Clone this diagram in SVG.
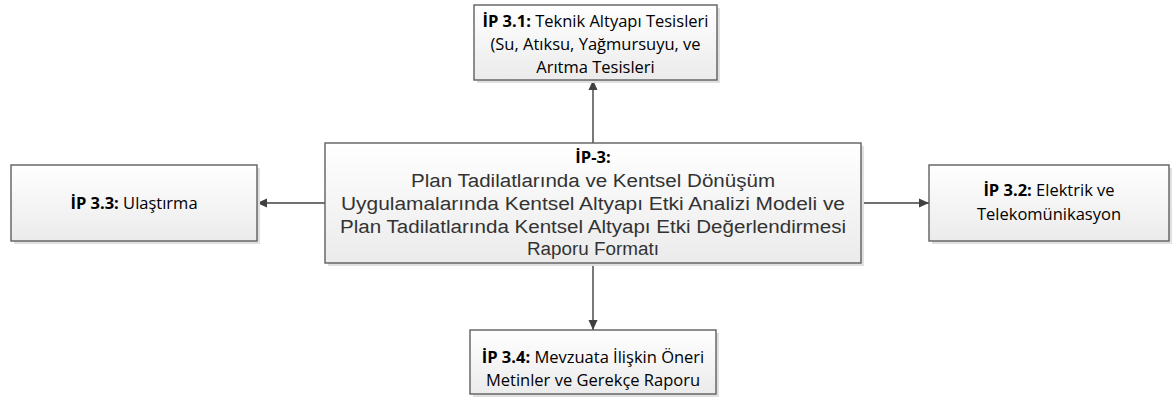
<svg xmlns="http://www.w3.org/2000/svg" width="1172" height="408" viewBox="0 0 1172 408">
  <defs>
    <linearGradient id="boxFill" x1="0" y1="0" x2="0" y2="1">
      <stop offset="0" stop-color="#ffffff"/>
      <stop offset="1" stop-color="#ebebeb"/>
    </linearGradient>
    <marker id="arrow" viewBox="0 0 10 10" refX="10" refY="5" markerWidth="10" markerHeight="10" markerUnits="userSpaceOnUse" orient="auto">
      <path d="M0,0.5 L10,5 L0,9.5 Z" fill="#404040"/>
    </marker>
    <style>
      .shadow { fill: #e0e0e0; }
      .box { fill: url(#boxFill); stroke: #5f5f5f; stroke-width: 1.4; }
      .lbl { font-family: "Open Sans", "Liberation Sans", sans-serif; font-size: 16.5px; fill: #000; text-anchor: middle; }
      .main { font-family: "Liberation Sans", "DejaVu Sans", sans-serif; font-size: 18px; fill: #333333; text-anchor: middle; }
      .head { font-family: "Open Sans", "Liberation Sans", sans-serif; font-size: 16.5px; font-weight: bold; fill: #000; text-anchor: middle; }
      .b { font-weight: bold; }
      .conn { stroke: #404040; stroke-width: 1.4; fill: none; marker-end: url(#arrow); }
    </style>
  </defs>

  <!-- connectors from the central node to its four satellites -->
  <g id="connectors">
    <line class="conn" x1="593" y1="143" x2="593" y2="80"/>
    <line class="conn" x1="325" y1="203" x2="257" y2="203"/>
    <line class="conn" x1="861" y1="203" x2="929" y2="203"/>
    <line class="conn" x1="593" y1="263" x2="593" y2="330"/>
  </g>

  <!-- central node -->
  <g id="ip3">
    <rect class="shadow" x="328" y="146" width="536" height="120"/>
    <rect class="box" x="325" y="143" width="536" height="120"/>
    <text class="head" x="593" y="163">İP-3:</text>
    <text class="main" x="593" y="187" textLength="364" lengthAdjust="spacingAndGlyphs">Plan Tadilatlarında ve Kentsel Dönüşüm</text>
    <text class="main" x="593" y="210" textLength="504" lengthAdjust="spacingAndGlyphs">Uygulamalarında Kentsel Altyapı Etki Analizi Modeli ve</text>
    <text class="main" x="593" y="233" textLength="506" lengthAdjust="spacingAndGlyphs">Plan Tadilatlarında Kentsel Altyapı Etki Değerlendirmesi</text>
    <text class="main" x="593" y="255" textLength="132" lengthAdjust="spacingAndGlyphs">Raporu Formatı</text>
  </g>

  <!-- top node -->
  <g id="ip31">
    <rect class="shadow" x="477" y="8" width="243" height="75"/>
    <rect class="box" x="474" y="5" width="243" height="75"/>
    <text class="lbl" x="595.5" y="27"><tspan class="b">İP 3.1:</tspan> Teknik Altyapı Tesisleri</text>
    <text class="lbl" x="595.5" y="50">(Su, Atıksu, Yağmursuyu, ve</text>
    <text class="lbl" x="595.5" y="73">Arıtma Tesisleri</text>
  </g>

  <!-- left node -->
  <g id="ip33">
    <rect class="shadow" x="14" y="168" width="246" height="76"/>
    <rect class="box" x="11" y="165" width="246" height="76"/>
    <text class="lbl" x="134" y="209"><tspan class="b">İP 3.3:</tspan> Ulaştırma</text>
  </g>

  <!-- right node -->
  <g id="ip32">
    <rect class="shadow" x="932" y="168" width="241" height="76"/>
    <rect class="box" x="929" y="165" width="240" height="76"/>
    <text class="lbl" x="1049" y="196"><tspan class="b">İP 3.2:</tspan> Elektrik ve</text>
    <text class="lbl" x="1049" y="220">Telekomünikasyon</text>
  </g>

  <!-- bottom node -->
  <g id="ip34">
    <rect class="shadow" x="473" y="333" width="246" height="64"/>
    <rect class="box" x="470" y="330" width="246" height="64"/>
    <text class="lbl" x="593" y="363"><tspan class="b">İP 3.4:</tspan> Mevzuata İlişkin Öneri</text>
    <text class="lbl" x="593" y="386">Metinler ve Gerekçe Raporu</text>
  </g>
</svg>
